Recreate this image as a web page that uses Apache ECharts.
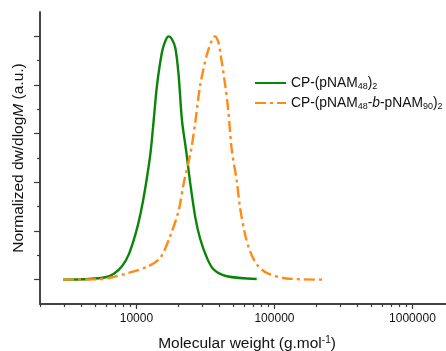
<!DOCTYPE html>
<html>
<head>
<meta charset="utf-8">
<script src="https://cdn.jsdelivr.net/npm/echarts@6/dist/echarts.min.js"></script>
<style>
  html, body { margin: 0; padding: 0; background: #fff; }
  #chart { width: 446px; height: 351px; }
</style>
</head>
<body>
<div id="chart"></div>
<script>
// molecular weight (g/mol) and normalized dw/dlogM
const mwA = [2940, 4530, 5970, 6860, 7880, 8800, 9840, 10690, 11610, 12620, 13330, 14100, 15340, 16300, 17100,
  18000, 19130, 20200, 21370, 22900, 24550, 26690, 28980, 32400, 36200, 45160, 74360]
const valA = [0, 0.003, 0.010, 0.024, 0.056, 0.104, 0.187, 0.270, 0.380, 0.518, 0.655, 0.800, 0.938, 0.985, 1.0,
  0.990, 0.952, 0.842, 0.655, 0.531, 0.395, 0.256, 0.167, 0.090, 0.042, 0.014, 0.003]

const mwB = [2940, 4790, 6310, 8800, 12270, 14900, 17580, 20200, 21960, 24840, 26690, 28980, 32370, 35000, 37100,
  39000, 40370, 43950, 46370, 49100, 53300, 56300, 61200, 66400, 74400, 87870, 122500, 231800]
const valB = [0, 0.001, 0.007, 0.028, 0.056, 0.090, 0.180, 0.283, 0.394, 0.531, 0.648, 0.800, 0.924, 0.980, 1.0,
  0.980, 0.938, 0.800, 0.690, 0.531, 0.407, 0.297, 0.187, 0.118, 0.063, 0.028, 0.005, 0]

const seriesNames = ['CP-(pNAM48)2', 'CP-(pNAM48-b-pNAM90)2']
const legendLabels = ['CP-(pNAM{sub|48}){sub|2}', 'CP-(pNAM{sub|48}-{it|b}-pNAM{sub|90}){sub|2}']

const xMajor = [10000, 100000, 1000000]
const xMinor = [2000, 3000, 4000, 5000, 6000, 7000, 8000, 9000,
  20000, 30000, 40000, 50000, 60000, 70000, 80000, 90000,
  200000, 300000, 400000, 500000, 600000, 700000, 800000, 900000, 2000000]
const yMajor = [0, 0.2, 0.4, 0.6, 0.8, 1.0]
const yMinor = [0.1, 0.3, 0.5, 0.7, 0.9]

const font = "'Liberation Sans', Arial, sans-serif"
const axisColor = '#3a3a3a'

const pairs = (xs, ys) => xs.map((x, i) => [x, ys[i]])

const chart = echarts.init(document.getElementById('chart'))

const xBase = {
  type: 'log',
  logBase: 10,
  min: 2000,
  max: 2000000,
  position: 'bottom',
  splitLine: { show: false },
  axisLine: { onZero: false, lineStyle: { color: axisColor, width: 1.5 } },
}
const yBase = {
  type: 'value',
  min: -0.1,
  max: 1.1,
  position: 'left',
  splitLine: { show: false },
  axisLabel: { show: false },
  axisLine: { onZero: false, lineStyle: { color: axisColor, width: 1.5 } },
}

chart.setOption({
  animation: false,
  textStyle: { fontFamily: font },
  grid: { left: 40, top: 12, width: 414, height: 292, outerBoundsMode: 'none', containLabel: false },
  legend: {
    orient: 'vertical',
    left: 249,
    top: 71,
    itemWidth: 31,
    itemHeight: 10,
    itemGap: 5,
    data: seriesNames,
    itemStyle: { opacity: 0 },
    formatter: name => legendLabels[seriesNames.indexOf(name)],
    textStyle: {
      fontFamily: font,
      fontSize: 13.8,
      color: '#111',
      rich: {
        sub: { fontSize: 9, fontFamily: font, color: '#111', padding: [7, 0, 0, 0] },
        it: { fontSize: 13.8, fontFamily: font, fontStyle: 'italic', color: '#111' },
      },
    },
  },
  xAxis: [
    {
      ...xBase,
      name: 'Molecular weight (g.mol{sup|-1})',
      nameLocation: 'middle',
      nameGap: 31,
      nameTextStyle: {
        fontFamily: font, fontSize: 15.5, color: '#111',
        rich: { sup: { fontSize: 10, fontFamily: font, color: '#111', padding: [0, 0, 8, 0] } },
      },
      axisTick: { customValues: xMajor, length: 5, lineStyle: { color: axisColor, width: 1.2 } },
      axisLabel: {
        customValues: xMajor, margin: 9, fontSize: 12, color: '#111', fontFamily: font,
        formatter: v => String(Math.round(v)),
      },
    },
    {
      ...xBase,
      axisTick: { customValues: xMinor, length: 3, lineStyle: { color: axisColor, width: 1.2 } },
      axisLabel: { show: false },
    },
  ],
  yAxis: [
    {
      ...yBase,
      name: 'Normalized dw/dlog{it|M} (a.u.)',
      nameLocation: 'middle',
      nameGap: 13,
      nameTextStyle: {
        fontFamily: font, fontSize: 15.5, color: '#111',
        rich: { it: { fontSize: 15.5, fontFamily: font, fontStyle: 'italic', color: '#111' } },
      },
      axisTick: { customValues: yMajor, length: 6, lineStyle: { color: axisColor, width: 1.2 } },
    },
    {
      ...yBase,
      axisTick: { customValues: yMinor, length: 3, lineStyle: { color: axisColor, width: 1.2 } },
    },
  ],
  series: [
    {
      name: seriesNames[0],
      type: 'line',
      smooth: 0.3,
      symbol: 'none',
      data: pairs(mwA, valA),
      itemStyle: { color: '#0a850a' },
      lineStyle: { color: '#0a850a', width: 2.4 },
    },
    {
      name: seriesNames[1],
      type: 'line',
      smooth: 0.3,
      symbol: 'none',
      data: pairs(mwB, valB),
      itemStyle: { color: '#ff8a14' },
      lineStyle: { color: '#ff8a14', width: 2.4, type: [11, 4, 3, 4] },
    },
  ],
})
</script>
</body>
</html>
